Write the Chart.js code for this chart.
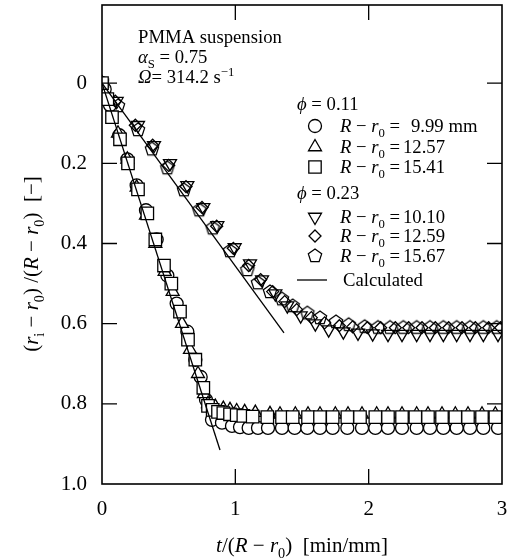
<!DOCTYPE html>
<html><head><meta charset="utf-8">
<script src="https://cdn.jsdelivr.net/npm/chart.js@4.4.0/dist/chart.umd.min.js"></script>
<style>html,body{margin:0;padding:0;background:#fff}#wrap{width:511px;height:559px}</style>
</head><body><div id="wrap"><canvas id="c" width="511" height="559"></canvas></div>
<script>
// ---- tick values / labels ----
const xTicks = [0, 1, 2, 3];
const xTickLabels = ['0', '1', '2', '3'];
const yTicks = [0, 0.2, 0.4, 0.6, 0.8, 1.0];
const yTickLabels = ['0', '0.2', '0.4', '0.6', '0.8', '1.0'];

// ---- phi = 0.11 ----
// R - r0 = 9.99 mm (circles)
const c999T = [0, 0.02, 0.06, 0.13, 0.19, 0.26, 0.33, 0.41, 0.49, 0.56, 0.64, 0.70, 0.74, 0.78, 0.825, 0.90, 0.975, 1.035, 1.10, 1.17, 1.245, 1.35, 1.445, 1.54, 1.635, 1.73, 1.84, 1.95, 2.05, 2.145, 2.25, 2.36, 2.46, 2.56, 2.66, 2.76, 2.86, 2.97];
const c999V = [0, 0.015, 0.055, 0.13, 0.19, 0.255, 0.317, 0.39, 0.48, 0.55, 0.62, 0.69, 0.733, 0.79, 0.84, 0.847, 0.855, 0.858, 0.86, 0.86, 0.86, 0.86, 0.86, 0.86, 0.86, 0.86, 0.86, 0.86, 0.86, 0.86, 0.86, 0.86, 0.86, 0.86, 0.86, 0.86, 0.86, 0.86];
// R - r0 = 12.57 mm (triangles)
const t1257T = [0, 0.05, 0.12, 0.19, 0.26, 0.33, 0.40, 0.47, 0.53, 0.60, 0.66, 0.72, 0.765, 0.795, 0.85, 0.91, 0.96, 1.01, 1.07, 1.15, 1.26, 1.335, 1.45, 1.545, 1.635, 1.75, 1.845, 1.95, 2.06, 2.145, 2.25, 2.36, 2.445, 2.55, 2.65, 2.745, 2.85, 2.95];
const t1257V = [0, 0.045, 0.125, 0.19, 0.26, 0.33, 0.40, 0.47, 0.52, 0.60, 0.665, 0.725, 0.775, 0.80, 0.807, 0.812, 0.815, 0.818, 0.82, 0.822, 0.825, 0.826, 0.826, 0.826, 0.826, 0.826, 0.826, 0.826, 0.826, 0.826, 0.826, 0.826, 0.826, 0.826, 0.826, 0.826, 0.826, 0.826];
// R - r0 = 15.41 mm (squares)
const s1541T = [0, 0.04, 0.075, 0.135, 0.195, 0.27, 0.34, 0.40, 0.465, 0.52, 0.585, 0.645, 0.70, 0.76, 0.795, 0.83, 0.87, 0.91, 0.96, 1.01, 1.06, 1.13, 1.24, 1.35, 1.43, 1.545, 1.635, 1.73, 1.84, 1.935, 2.05, 2.145, 2.25, 2.35, 2.445, 2.55, 2.65, 2.745, 2.85, 2.95];
const s1541V = [0, 0.04, 0.085, 0.14, 0.20, 0.265, 0.325, 0.39, 0.455, 0.50, 0.57, 0.64, 0.69, 0.76, 0.805, 0.815, 0.82, 0.823, 0.826, 0.828, 0.83, 0.832, 0.833, 0.833, 0.833, 0.833, 0.833, 0.833, 0.833, 0.833, 0.833, 0.833, 0.833, 0.833, 0.833, 0.833, 0.833, 0.833, 0.833, 0.833];

// ---- phi = 0.23 ----
// R - r0 = 10.10 mm (down triangles)
const d1010T = [0, 0.11, 0.27, 0.39, 0.51, 0.64, 0.76, 0.865, 0.995, 1.11, 1.20, 1.30, 1.39, 1.49, 1.60, 1.70, 1.81, 1.92, 2.03, 2.145, 2.25, 2.36, 2.46, 2.56, 2.66, 2.76, 2.86, 2.97];
const d1010V = [0, 0.045, 0.105, 0.155, 0.20, 0.255, 0.31, 0.355, 0.41, 0.45, 0.49, 0.525, 0.555, 0.58, 0.60, 0.615, 0.62, 0.623, 0.625, 0.626, 0.626, 0.626, 0.626, 0.626, 0.626, 0.626, 0.626, 0.626];
// R - r0 = 12.59 mm (diamonds)
const m1259T = [0, 0.10, 0.25, 0.38, 0.50, 0.63, 0.75, 0.86, 0.985, 1.10, 1.19, 1.28, 1.37, 1.46, 1.57, 1.67, 1.78, 1.88, 1.99, 2.09, 2.20, 2.30, 2.40, 2.50, 2.60, 2.70, 2.80, 2.90, 2.99];
const m1259V = [0, 0.045, 0.105, 0.155, 0.205, 0.258, 0.31, 0.357, 0.412, 0.455, 0.49, 0.52, 0.545, 0.565, 0.585, 0.598, 0.605, 0.608, 0.61, 0.61, 0.61, 0.61, 0.61, 0.61, 0.61, 0.61, 0.61, 0.61, 0.61];
// R - r0 = 15.67 mm (pentagons)
const p1567T = [0, 0.12, 0.27, 0.375, 0.49, 0.615, 0.73, 0.83, 0.96, 1.09, 1.17, 1.26, 1.35, 1.43, 1.54, 1.635, 1.755, 1.85, 1.97, 2.07, 2.16, 2.26, 2.36, 2.46, 2.56, 2.66, 2.76, 2.86, 2.96];
const p1567V = [0, 0.057, 0.117, 0.165, 0.212, 0.267, 0.317, 0.362, 0.419, 0.466, 0.499, 0.521, 0.539, 0.556, 0.574, 0.586, 0.596, 0.603, 0.608, 0.61, 0.61, 0.61, 0.61, 0.61, 0.61, 0.61, 0.61, 0.61, 0.61];

// ---- calculated lines ----
const calcAT = [0, 0.885];
const calcAV = [0, 0.915];
const calcBT = [0, 1.365];
const calcBV = [0, 0.623];

const FONT = '"Liberation Serif","Times New Roman",serif';
const LW = 1.3;

function pts(t, v) { return t.map((x, i) => ({ x: x, y: v[i] })); }

function makePentagon(r, lw, fill) {
  const s = 20;
  const c = document.createElement('canvas'); c.width = s; c.height = s;
  const g = c.getContext('2d');
  g.beginPath();
  for (let k = 0; k < 5; k++) {
    const a = -Math.PI / 2 + k * 2 * Math.PI / 5;
    const px = s / 2 + r * Math.cos(a), py = s / 2 + r * Math.sin(a);
    if (k) g.lineTo(px, py); else g.moveTo(px, py);
  }
  g.closePath();
  if (fill) { g.fillStyle = fill; g.fill(); }
  g.lineWidth = lw; g.strokeStyle = '#000'; g.stroke();
  return c;
}
const pentImg = makePentagon(7, LW, '#fff');

function markerDs(label, t, v, style, radius, fill, order, rotation) {
  return {
    label: label, data: pts(t, v), showLine: false, order: order,
    pointStyle: style, pointRadius: radius, pointHoverRadius: radius,
    pointRotation: rotation || 0,
    pointBorderColor: '#000', pointBackgroundColor: fill, pointBorderWidth: LW
  };
}
function lineDs(label, t, v) {
  return { label: label, type: 'line', data: pts(t, v), showLine: true, order: 0,
    borderColor: '#000', borderWidth: 1.3, pointRadius: 0, fill: false, tension: 0 };
}

// ---- rich text helper ----
function segFont(s, size) {
  const sz = s.s ? size * 0.68 : size;
  return (s.i ? 'italic ' : '') + sz + 'px ' + FONT;
}
function richWidth(ctx, segs, size) {
  let w = 0;
  segs.forEach(s => { ctx.font = segFont(s, size); w += ctx.measureText(s.t).width; });
  return w;
}
function drawRich(ctx, x, y, segs, size, align) {
  let cx = x;
  if (align === 'center') cx = x - richWidth(ctx, segs, size) / 2;
  ctx.textAlign = 'left'; ctx.textBaseline = 'alphabetic'; ctx.fillStyle = '#000';
  segs.forEach(s => {
    ctx.font = segFont(s, size);
    let dy = 0;
    if (s.s === 'sub') dy = size * 0.28;
    if (s.s === 'sup') dy = -size * 0.38;
    ctx.fillText(s.t, cx, y + dy);
    cx += ctx.measureText(s.t).width;
  });
}

function drawMarker(ctx, type, x, y) {
  ctx.save();
  ctx.lineWidth = LW; ctx.strokeStyle = '#000'; ctx.fillStyle = '#fff';
  ctx.beginPath();
  if (type === 'circle') { ctx.arc(x, y, 6.5, 0, Math.PI * 2); }
  else if (type === 'triangle' || type === 'down') {
    const r = 7.5, sgn = type === 'down' ? -1 : 1;
    for (let k = 0; k < 3; k++) {
      const a = k * 2 * Math.PI / 3;
      const px = x + Math.sin(a) * r, py = y - sgn * Math.cos(a) * r;
      if (k) ctx.lineTo(px, py); else ctx.moveTo(px, py);
    }
    ctx.closePath();
  } else if (type === 'rect') { ctx.rect(x - 6.2, y - 6.2, 12.4, 12.4); }
  else if (type === 'diamond') {
    const r = 6; ctx.moveTo(x, y - r); ctx.lineTo(x + r, y); ctx.lineTo(x, y + r); ctx.lineTo(x - r, y); ctx.closePath();
  } else if (type === 'pent') {
    ctx.drawImage(pentImg, x - pentImg.width / 2, y - pentImg.height / 2);
    ctx.restore(); return;
  }
  ctx.fill(); ctx.stroke();
  ctx.restore();
}

const R_EQ = [{ t: 'R', i: true }, { t: ' \u2212 ' }, { t: 'r', i: true }, { t: '0', s: 'sub' }, { t: ' = ' }];

const decor = {
  id: 'decor',
  afterDraw(chart) {
    const ctx = chart.ctx, a = chart.chartArea;
    const xs = chart.scales.x, ys = chart.scales.y;
    ctx.save();
    // frame
    ctx.strokeStyle = '#000'; ctx.lineWidth = 1.6;
    ctx.strokeRect(a.left, a.top, a.right - a.left, a.bottom - a.top);
    // inward ticks
    ctx.lineWidth = 1.3;
    ctx.beginPath();
    [0, 0.2, 0.4, 0.6, 0.8].forEach(v => {
      const y = ys.getPixelForValue(v);
      ctx.moveTo(a.left, y); ctx.lineTo(a.left + 15, y);
      ctx.moveTo(a.right, y); ctx.lineTo(a.right - 15, y);
    });
    [1, 2].forEach(v => {
      const x = xs.getPixelForValue(v);
      ctx.moveTo(x, a.bottom); ctx.lineTo(x, a.bottom - 15);
      ctx.moveTo(x, a.top); ctx.lineTo(x, a.top + 15);
    });
    ctx.stroke();

    // annotation text
    const S = 18.7;
    drawRich(ctx, 138, 43, [{ t: 'PMMA suspension' }], S);
    drawRich(ctx, 138, 63, [{ t: '\u03B1', i: true }, { t: 'S', s: 'sub' }, { t: ' = 0.75' }], S);
    drawRich(ctx, 138, 83, [{ t: '\u03A9', i: true }, { t: '= 314.2 s' }, { t: '\u22121', s: 'sup' }], S);

    // legend
    drawRich(ctx, 297, 110, [{ t: '\u03D5', i: true }, { t: ' = 0.11' }], S);
    const rows = [
      ['circle', 126, '9.99 mm', 411],
      ['triangle', 147, '12.57', 403],
      ['rect', 167, '15.41', 403]
    ];
    rows.forEach(r => {
      drawMarker(ctx, r[0], 315, r[1]);
      drawRich(ctx, 340, r[1] + 6, R_EQ, S);
      drawRich(ctx, r[3], r[1] + 6, [{ t: r[2] }], S);
    });
    drawRich(ctx, 297, 199, [{ t: '\u03D5', i: true }, { t: ' = 0.23' }], S);
    const rows2 = [
      ['down', 217, '10.10'],
      ['diamond', 236, '12.59'],
      ['pent', 256, '15.67']
    ];
    rows2.forEach(r => {
      drawMarker(ctx, r[0], 315, r[1]);
      drawRich(ctx, 340, r[1] + 6, R_EQ, S);
      drawRich(ctx, 403, r[1] + 6, [{ t: r[2] }], S);
    });
    ctx.lineWidth = 1.3; ctx.beginPath(); ctx.moveTo(297, 280); ctx.lineTo(327, 280); ctx.stroke();
    drawRich(ctx, 343, 286, [{ t: 'Calculated' }], S);

    // axis titles
    const T = 21;
    drawRich(ctx, (a.left + a.right) / 2, 552,
      [{ t: 't', i: true }, { t: '/(' }, { t: 'R', i: true }, { t: ' \u2212 ' }, { t: 'r', i: true }, { t: '0', s: 'sub' }, { t: ')  [min/mm]' }], T, 'center');
    ctx.save();
    ctx.translate(38, 264); ctx.rotate(-Math.PI / 2);
    drawRich(ctx, 0, 0,
      [{ t: '(' }, { t: 'r', i: true }, { t: 'i', s: 'sub' }, { t: ' \u2212 ' }, { t: 'r', i: true }, { t: '0', s: 'sub' }, { t: ') /(' },
       { t: 'R', i: true }, { t: ' \u2212 ' }, { t: 'r', i: true }, { t: '0', s: 'sub' }, { t: ')  [\u2212]' }], T, 'center');
    ctx.restore();
    ctx.restore();
  }
};

new Chart(document.getElementById('c').getContext('2d'), {
  type: 'scatter',
  data: {
    datasets: [
      lineDs('Calculated A', calcAT, calcAV),
      lineDs('Calculated B', calcBT, calcBV),
      markerDs('R-r0 = 15.41', s1541T, s1541V, 'rect', 8.8, '#fff', 1),
      markerDs('R-r0 = 12.57', t1257T, t1257V, 'triangle', 7.5, '#fff', 2),
      markerDs('R-r0 = 9.99', c999T, c999V, 'circle', 6.5, '#fff', 3),
      markerDs('R-r0 = 10.10', d1010T, d1010V, 'triangle', 7.5, 'rgba(255,255,255,0)', 1, 180),
      markerDs('R-r0 = 12.59', m1259T, m1259V, 'rectRot', 6, 'rgba(255,255,255,0)', 2),
      markerDs('R-r0 = 15.67', p1567T, p1567V, pentImg, 7, '#fff', 4)
    ]
  },
  options: {
    responsive: false, animation: false, events: [],
    layout: { autoPadding: false, padding: { top: 5, right: 9, left: 0, bottom: 0 } },
    plugins: { legend: { display: false }, tooltip: { enabled: false } },
    scales: {
      x: {
        type: 'linear', min: 0, max: 3,
        afterBuildTicks: s => { s.ticks = xTicks.map(v => ({ value: v })); },
        afterFit: s => { s.height = 75; s.paddingLeft = 0; s.paddingRight = 0; },
        grid: { display: false, drawTicks: false }, border: { display: false },
        ticks: { font: { family: FONT, size: 21 }, color: '#000', padding: 13, autoSkip: false, maxRotation: 0,
          callback: (v, i) => xTickLabels[i] }
      },
      y: {
        type: 'linear', reverse: true, min: -0.195, max: 1.0,
        afterBuildTicks: s => { s.ticks = yTicks.map(v => ({ value: v })); },
        afterFit: s => { s.width = 102; s.paddingTop = 0; s.paddingBottom = 0; },
        grid: { display: false, drawTicks: false }, border: { display: false },
        ticks: { font: { family: FONT, size: 21 }, color: '#000', padding: 15, autoSkip: false,
          callback: (v, i) => yTickLabels[i] }
      }
    }
  },
  plugins: [decor]
});
</script>
</body></html>
